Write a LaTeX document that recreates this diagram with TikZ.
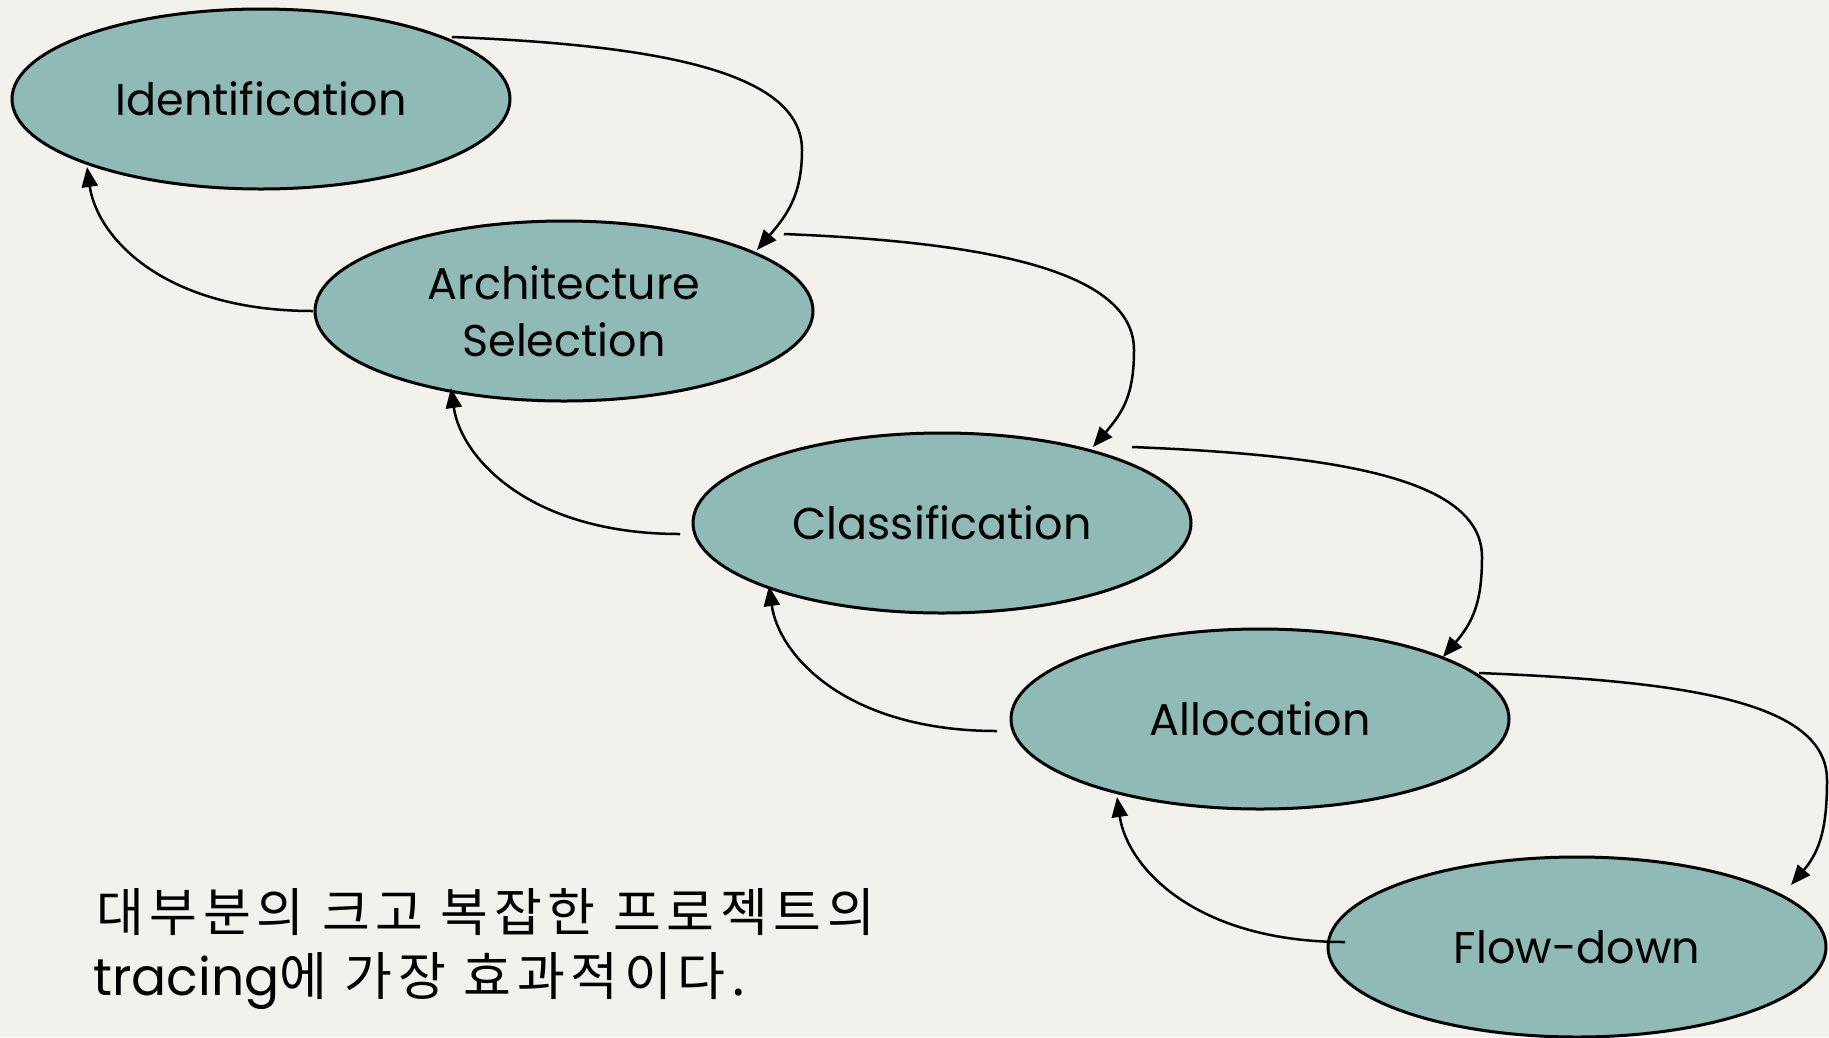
\documentclass[tikz,border=0pt]{standalone}
\usepackage{fontspec}
\setmainfont{Poppins}
\newfontfamily\krfont{Noto Sans CJK KR}[LetterSpace=11]
\usetikzlibrary{shapes.geometric,arrows.meta,calc}
\definecolor{paper}{HTML}{F3F1EB}
\definecolor{tealfill}{HTML}{8FBAB5}
\begin{document}
\begin{tikzpicture}[x=1pt,y=-1pt,
  stage/.style={ellipse, draw=black, line width=3pt, fill=tealfill,
    minimum width=498pt, minimum height=180pt, inner sep=0pt,
    font=\fontsize{44.5}{57}\selectfont, align=center},
  conn/.style={line width=2.5pt, -{Triangle[length=20pt,width=16pt]}},
  note/.style={anchor=base west, inner sep=0pt, font=\krfont\fontsize{52}{60}\selectfont}]
\fill[paper] (0,0) rectangle (1829,1037);
\useasboundingbox (0,0) rectangle (1829,1037);

\node[stage] (id)    at (261,99)  {Identification};
\node[stage] (arch)  at (564,311) {Architecture\\Selection};
\node[stage] (class) at (942,523) {Classification};
\node[stage] (alloc) at (1260,719) {Allocation};
\node[stage] (flow)  at (1577,947) {Flow-down};

% forward connectors
\draw[conn] ($(id)+(191,-62)$) .. controls +(200,8) and +(0,-80) .. ($(id)+(541,51)$)
  .. controls +(0,45) and +(30,-35) .. ($(arch)+(193,-61)$);
\draw[conn] ($(arch)+(220,-77)$) .. controls +(200,8) and +(0,-80) .. ($(arch)+(570,39)$)
  .. controls +(0,45) and +(30,-35) .. ($(class)+(151,-76)$);
\draw[conn] ($(class)+(190,-76)$) .. controls +(200,8) and +(0,-80) .. ($(class)+(540,34)$)
  .. controls +(0,45) and +(30,-35) .. ($(alloc)+(183,-62)$);
\draw[conn] ($(alloc)+(219,-46)$) .. controls +(200,8) and +(0,-80) .. ($(alloc)+(567,61)$)
  .. controls +(0,45) and +(30,-35) .. ($(flow)+(214,-62)$);

% backward connectors
\draw[conn] ($(arch)+(-251,0)$) .. controls +(-150,0) and +(10,70) .. ($(id)+(-174,68)$);
\draw[conn] ($(class)+(-262,11)$) .. controls +(-150,0) and +(10,70) .. ($(arch)+(-113,77)$);
\draw[conn] ($(alloc)+(-263,12)$) .. controls +(-150,0) and +(10,70) .. ($(class)+(-173,63)$);
\draw[conn] ($(flow)+(-232,-5)$) .. controls +(-150,0) and +(10,70) .. ($(alloc)+(-143,78)$);

\node[note] (note1) at (96,931) {대부분의 크고 복잡한 프로젝트의};
\node[note] (note2) at (93,995) {{\rmfamily tracing}에 가장 효과적이다.};
\end{tikzpicture}
\end{document}
